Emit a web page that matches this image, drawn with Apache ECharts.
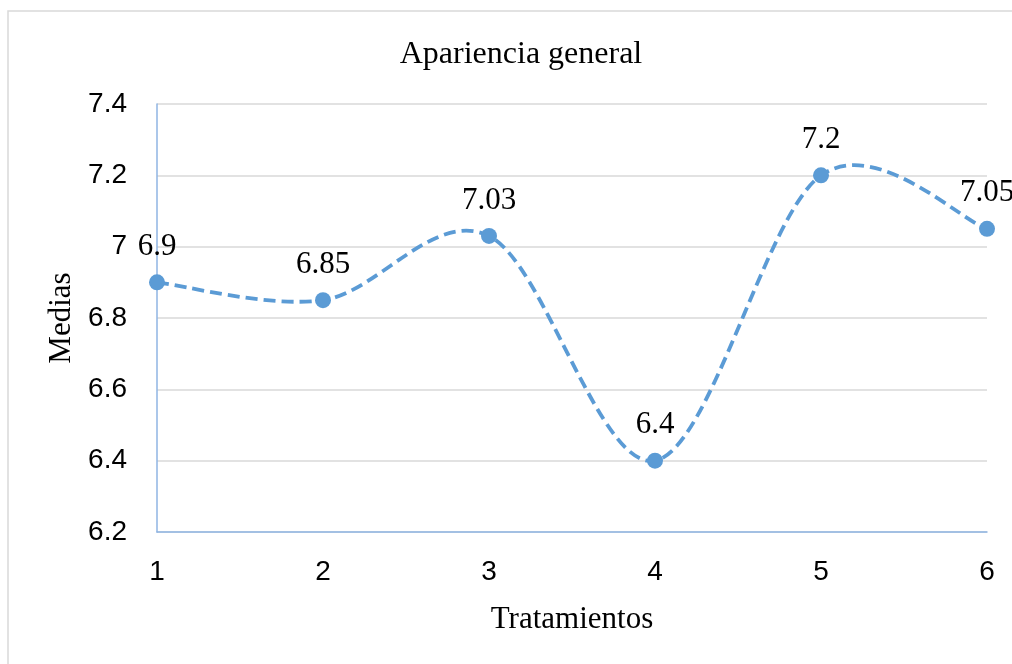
<!DOCTYPE html>
<html>
<head>
<meta charset="utf-8">
<script src="https://cdn.jsdelivr.net/npm/echarts@6/dist/echarts.min.js"></script>
<style>html,body{margin:0;padding:0;background:#fff}#c{width:1012px;height:664px}</style>
</head>
<body>
<div id="c"></div>
<script>
var categories = ['1', '2', '3', '4', '5', '6'];
var medias = [6.9, 6.85, 7.03, 6.4, 7.2, 7.05];
var yMin = 6.2, yMax = 7.4, yStep = 0.2;

var chart = echarts.init(document.getElementById('c'));
var serif = '"Liberation Serif", "Times New Roman", serif';
var sans = '"Liberation Sans", Arial, sans-serif';
var lineColor = '#5b9bd5';

// Excel-style smoothed curve (Catmull-Rom -> cubic Bezier) through the data points,
// positioned with the chart's own axes via api.coord
function renderCurve(params, api) {
  if (params.dataIndex !== 0) return;
  var pts = medias.map(function (v, i) { return api.coord([i, v]); });
  var n = pts.length;
  var d = 'M' + pts[0][0] + ' ' + pts[0][1];
  for (var i = 0; i < n - 1; i++) {
    var p0 = pts[Math.max(i - 1, 0)], p1 = pts[i], p2 = pts[i + 1], p3 = pts[Math.min(i + 2, n - 1)];
    var c1x = p1[0] + (p2[0] - p0[0]) / 6, c1y = p1[1] + (p2[1] - p0[1]) / 6;
    var c2x = p2[0] - (p3[0] - p1[0]) / 6, c2y = p2[1] - (p3[1] - p1[1]) / 6;
    d += ' C' + c1x + ' ' + c1y + ' ' + c2x + ' ' + c2y + ' ' + p2[0] + ' ' + p2[1];
  }
  return {
    type: 'path',
    shape: { pathData: d },
    style: { fill: null, stroke: lineColor, lineWidth: 3.8, lineDash: [12, 6], lineCap: 'butt' },
    silent: true
  };
}

chart.setOption({
  animation: false,
  backgroundColor: '#fff',
  graphic: [{
    type: 'rect', silent: true,
    shape: { x: 8, y: 11, width: 1200, height: 800 },
    style: { fill: 'none', stroke: '#d9d9d9', lineWidth: 1.5 }
  }],
  title: {
    text: 'Apariencia general',
    left: 516, top: 34, textAlign: 'center',
    textStyle: { fontFamily: serif, fontSize: 32, fontWeight: 'normal', color: '#000' }
  },
  grid: { left: 157, right: 25, top: 104, bottom: 132, containLabel: false },
  xAxis: {
    type: 'category', data: categories, boundaryGap: false,
    name: 'Tratamientos', nameLocation: 'middle', nameGap: 72,
    nameTextStyle: { fontFamily: serif, fontSize: 31, color: '#000' },
    axisLine: { lineStyle: { color: '#8fb5e3', width: 1.5 } },
    axisTick: { show: false },
    axisLabel: { fontFamily: sans, fontSize: 28, color: '#000', margin: 26 },
    splitLine: { show: false }
  },
  yAxis: {
    type: 'value', min: yMin, max: yMax, interval: yStep,
    name: 'Medias', nameLocation: 'middle', nameGap: 74,
    nameTextStyle: { fontFamily: serif, fontSize: 31, color: '#000' },
    axisLine: { show: true, lineStyle: { color: '#8fb5e3', width: 1.5 } },
    axisTick: { show: false },
    axisLabel: {
      fontFamily: sans, fontSize: 28, color: '#000', margin: 30,
      formatter: function (v) { return String(Math.round(v * 10) / 10); }
    },
    splitLine: { lineStyle: { color: '#d9d9d9', width: 1.5 } }
  },
  series: [{
    type: 'custom', coordinateSystem: 'cartesian2d',
    data: medias.map(function (v, i) { return [i, v]; }),
    renderItem: renderCurve, silent: true, z: 2
  }, {
    type: 'line', data: medias, z: 3,
    symbol: 'circle', symbolSize: 16,
    itemStyle: { color: lineColor },
    lineStyle: { width: 0, opacity: 0 },
    label: {
      show: true, position: 'top', distance: 12,
      fontFamily: serif, fontSize: 31, color: '#000'
    }
  }]
});
</script>
</body>
</html>
